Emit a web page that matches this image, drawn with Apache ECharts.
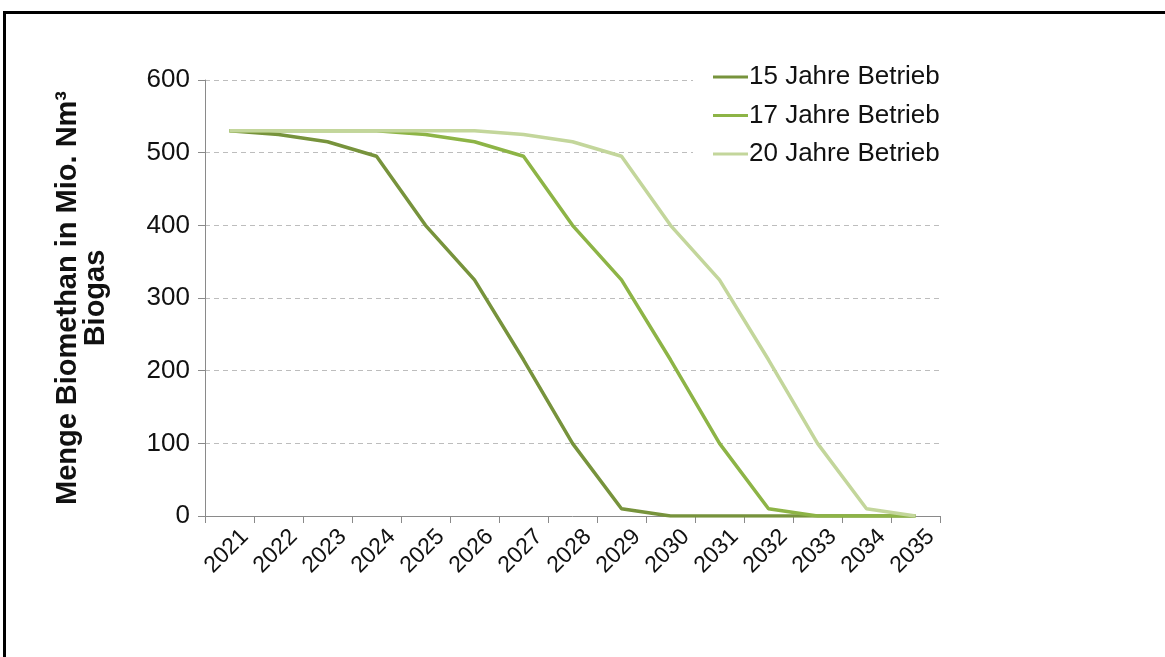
<!DOCTYPE html>
<html>
<head>
<meta charset="utf-8">
<script src="https://cdn.jsdelivr.net/npm/echarts@6/dist/echarts.min.js"></script>
<style>
  html, body { margin: 0; padding: 0; background: #fff; }
  #frame { position: absolute; left: 3px; top: 11px; width: 1162px; height: 646px;
           border-top: 3px solid #000; border-left: 3px solid #000; box-sizing: border-box; }
  #chart { position: absolute; left: 0; top: 0; width: 1165px; height: 657px; }
</style>
</head>
<body>
<div id="frame"></div>
<div id="chart"></div>
<script>
// Jahre der Betriebsdauer
const years = ['2021','2022','2023','2024','2025','2026','2027','2028','2029','2030','2031','2032','2033','2034','2035'];

// Menge Biomethan (Mio. Nm³) je Szenario
const betrieb15 = [530, 525, 515, 495, 400, 325, 215, 100, 10, 0, 0, 0, 0, 0, 0];
const betrieb17 = [530, 530, 530, 530, 525, 515, 495, 400, 325, 215, 100, 10, 0, 0, 0];
const betrieb20 = [530, 530, 530, 530, 530, 530, 525, 515, 495, 400, 325, 215, 100, 10, 0];

const seriesNames = ['15 Jahre Betrieb', '17 Jahre Betrieb', '20 Jahre Betrieb'];
const seriesColors = ['#77933C', '#8DB446', '#C3D69B'];

const font = 'Liberation Sans, Arial, sans-serif';

const chart = echarts.init(document.getElementById('chart'), null, { renderer: 'canvas' });

function lineSeries(name, data, color) {
  return {
    name: name,
    type: 'line',
    data: data,
    symbol: 'none',
    smooth: false,
    lineStyle: { color: color, width: 3.5 },
    itemStyle: { color: color },
    z: 3
  };
}

chart.setOption({
  animation: false,
  backgroundColor: 'transparent',
  grid: { left: 205, right: 225, top: 80, bottom: 141, containLabel: false },
  legend: {
    orient: 'vertical',
    left: 693,
    top: 58,
    padding: [4, 4, 4, 20],
    backgroundColor: '#fff',
    itemWidth: 35,
    itemHeight: 3,
    itemGap: 8.5,
    icon: 'rect',
    data: seriesNames,
    textStyle: { fontFamily: font, fontSize: 26, color: '#111', padding: [0, 0, 0, -4], lineHeight: 30 },
    z: 10
  },
  xAxis: {
    type: 'category',
    data: years,
    boundaryGap: true,
    axisLine: { lineStyle: { color: '#8a8a8a', width: 1 } },
    axisTick: { show: true, length: 7, lineStyle: { color: '#8a8a8a' } },
    axisLabel: {
      rotate: 45,
      fontFamily: font,
      fontSize: 23,
      color: '#111',
      margin: 2,
      verticalAlign: 'top',
      padding: [10, 0, 0, 0],
      interval: 0
    }
  },
  yAxis: {
    type: 'value',
    min: 0,
    max: 600,
    interval: 100,
    name: 'Menge Biomethan in Mio. Nm³\nBiogas',
    nameLocation: 'middle',
    nameRotate: 90,
    nameGap: 95,
    nameTextStyle: { fontFamily: font, fontSize: 29, fontWeight: 'bold', color: '#111', lineHeight: 28 },
    axisLine: { show: true, lineStyle: { color: '#8a8a8a', width: 1 } },
    axisTick: { show: true, length: 7, lineStyle: { color: '#8a8a8a' } },
    axisLabel: { fontFamily: font, fontSize: 26, color: '#111', margin: 15 },
    splitLine: { show: true, lineStyle: { color: '#bdbdbd', type: [5, 4], width: 1 } }
  },
  series: [
    lineSeries(seriesNames[0], betrieb15, seriesColors[0]),
    lineSeries(seriesNames[1], betrieb17, seriesColors[1]),
    lineSeries(seriesNames[2], betrieb20, seriesColors[2])
  ]
});
</script>
</body>
</html>
